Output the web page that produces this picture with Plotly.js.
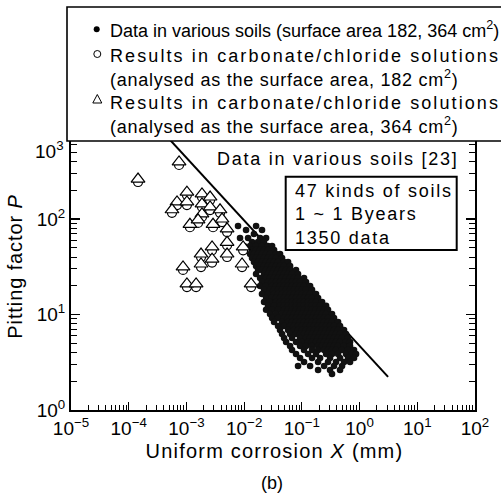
<!DOCTYPE html>
<html>
<head>
<meta charset="utf-8">
<script src="https://cdn.plot.ly/plotly-3.0.1.min.js"></script>
<style>
  html, body { margin: 0; padding: 0; background: #fff; }
  #chart { width: 501px; height: 496px; }
</style>
</head>
<body>
<div id="chart"></div>
<script>
// ---- Field data: pitting factor P against uniform corrosion X ----

// Data in various soils: one P level per row, with the X values observed at that level
const soilRowP = [84.5, 76.7, 69.7, 63.3, 57.5, 52.2, 47.4, 43.0, 39.1, 35.5, 32.2, 29.3, 26.6, 24.1,
  21.9, 19.9, 18.1, 16.4, 14.9, 13.5, 12.3, 11.2, 10.1, 9.20, 8.35, 7.58, 6.88, 6.25, 5.68, 5.15,
  4.68, 4.25, 3.86, 3.50, 3.18, 2.89, 2.62, 2.38];
const soilRowX = [
  [0.00784, 0.0161],
  [0.0108, 0.0204],
  [0.0148],
  [0.00849, 0.0117, 0.0189, 0.0240],
  [0.0137, 0.0174, 0.0221],
  [0.00995, 0.0127, 0.0161, 0.0204, 0.0259, 0.0305],
  [0.0137, 0.0161, 0.0189, 0.0221, 0.0259, 0.0330],
  [0.0127, 0.0148, 0.0174, 0.0204, 0.0240, 0.0281, 0.0357, 0.0419],
  [0.0137, 0.0161, 0.0189, 0.0221, 0.0259, 0.0305, 0.0357, 0.0454],
  [0.0148, 0.0174, 0.0204, 0.0240, 0.0281, 0.0330, 0.0387, 0.0492, 0.0577],
  [0.0161, 0.0189, 0.0221, 0.0259, 0.0305, 0.0357, 0.0419, 0.0492, 0.0625],
  [0.0174, 0.0204, 0.0240, 0.0281, 0.0330, 0.0387, 0.0454, 0.0533, 0.0625, 0.0793],
  [0.0161, 0.0221, 0.0259, 0.0305, 0.0357, 0.0419, 0.0492, 0.0577, 0.0676, 0.0859],
  [0.0189, 0.0240, 0.0281, 0.0330, 0.0387, 0.0454, 0.0533, 0.0625, 0.0733, 0.0859, 0.109],
  [0.0204, 0.0259, 0.0305, 0.0357, 0.0419, 0.0492, 0.0577, 0.0676, 0.0793, 0.0931, 0.118],
  [0.0189, 0.0240, 0.0305, 0.0357, 0.0419, 0.0492, 0.0577, 0.0676, 0.0793, 0.0931, 0.109, 0.139],
  [0.0221, 0.0281, 0.0330, 0.0387, 0.0454, 0.0533, 0.0625, 0.0733, 0.0859, 0.101, 0.118, 0.150],
  [0.0204, 0.0259, 0.0330, 0.0387, 0.0454, 0.0533, 0.0625, 0.0733, 0.0859, 0.101, 0.118, 0.139, 0.176],
  [0.0240, 0.0305, 0.0357, 0.0419, 0.0492, 0.0577, 0.0676, 0.0793, 0.0931, 0.109, 0.128, 0.150, 0.191],
  [0.0221, 0.0281, 0.0357, 0.0419, 0.0492, 0.0577, 0.0676, 0.0793, 0.0931, 0.109, 0.128, 0.150, 0.176, 0.224],
  [0.0259, 0.0330, 0.0419, 0.0492, 0.0577, 0.0676, 0.0793, 0.0931, 0.109, 0.128, 0.150, 0.176, 0.207, 0.263],
  [0.0240, 0.0305, 0.0387, 0.0492, 0.0577, 0.0676, 0.0793, 0.0931, 0.109, 0.128, 0.150, 0.176, 0.207, 0.243, 0.284],
  [0.0281, 0.0357, 0.0454, 0.0533, 0.0625, 0.0733, 0.0859, 0.101, 0.118, 0.139, 0.163, 0.191, 0.224, 0.263, 0.333],
  [0.0305, 0.0387, 0.0492, 0.0577, 0.0676, 0.0793, 0.0931, 0.109, 0.128, 0.150, 0.176, 0.207, 0.243, 0.284, 0.361],
  [0.0330, 0.0454, 0.0577, 0.0676, 0.0793, 0.0931, 0.109, 0.128, 0.150, 0.176, 0.207, 0.243, 0.284, 0.333, 0.424],
  [0.0387, 0.0492, 0.0625, 0.0733, 0.0859, 0.101, 0.118, 0.139, 0.163, 0.191, 0.224, 0.263, 0.308, 0.361, 0.459],
  [0.0419, 0.0577, 0.0733, 0.0859, 0.101, 0.118, 0.139, 0.163, 0.191, 0.224, 0.263, 0.308, 0.361, 0.424, 0.538],
  [0.0454, 0.0625, 0.0793, 0.0931, 0.109, 0.128, 0.150, 0.176, 0.207, 0.243, 0.284, 0.333, 0.391, 0.459, 0.583],
  [0.0492, 0.0676, 0.0931, 0.118, 0.139, 0.163, 0.191, 0.224, 0.263, 0.308, 0.361, 0.424, 0.497, 0.632],
  [0.0533, 0.0793, 0.101, 0.128, 0.150, 0.176, 0.207, 0.243, 0.284, 0.333, 0.391, 0.459, 0.583, 0.684],
  [0.0625, 0.0931, 0.118, 0.150, 0.191, 0.224, 0.263, 0.308, 0.361, 0.424, 0.538, 0.684],
  [0.0676, 0.109, 0.150, 0.191, 0.243, 0.284, 0.333, 0.391, 0.497, 0.632, 0.802],
  [0.0793, 0.128, 0.176, 0.263, 0.333, 0.424, 0.583, 0.741, 0.869],
  [0.0931, 0.150, 0.207, 0.308, 0.459, 0.632, 0.802],
  [0.109, 0.191, 0.284, 0.391, 0.538, 0.684],
  [0.0859, 0.139, 0.243, 0.361, 0.497],
  [0.191, 0.308, 0.459],
  [0.333]
];

// Carbonate/chloride solutions, analysed with a surface area of 182 cm2 (circles)
const circX = [1.45e-4, 7.45e-4, 6.87e-4, 5.62e-4, 1.02e-3, 1.02e-3, 1.86e-3, 1.86e-3, 1.86e-3, 2.57e-3,
  2.57e-3, 2.89e-3, 3.82e-3, 4.14e-3, 5.06e-3, 5.06e-3, 5.06e-3, 1.15e-3, 1.59e-3, 2.78e-3,
  2.78e-3, 1.79e-3, 1.79e-3, 8.73e-4, 1.02e-3, 1.47e-3, 9.2e-3, 9.6e-3, 1.32e-2];
const circP = [244, 368, 140, 116, 178, 140, 170, 134, 105, 158,
  124, 82, 116, 93, 73, 53, 40, 82, 91, 47,
  35, 40, 31.4, 29.3, 19.4, 19.4, 31.4, 47, 19.4];

// The same solutions analysed with a surface area of 364 cm2 (triangles)
const triX = [1.45e-4, 7.45e-4, 6.87e-4, 5.62e-4, 1.02e-3, 1.02e-3, 1.86e-3, 1.86e-3, 1.86e-3, 2.57e-3,
  2.57e-3, 2.89e-3, 3.82e-3, 4.14e-3, 5.06e-3, 5.06e-3, 5.06e-3, 1.15e-3, 1.59e-3, 2.78e-3,
  2.78e-3, 1.79e-3, 1.79e-3, 8.73e-4, 1.02e-3, 1.47e-3, 9.2e-3, 9.6e-3, 1.32e-2];
const triP = [262, 396, 151, 125, 191, 151, 183, 144, 113, 170,
  134, 88, 125, 100, 79, 57, 43, 88, 98, 51,
  38, 43, 33.8, 31.5, 20.9, 20.9, 33.8, 51, 20.9];

// Upper bound line of the soil data
const boundX = [4.0e-4, 3.12];
const boundP = [800, 2.22];

// Axis ticks
const xTickVals = [1e-5, 1e-4, 1e-3, 1e-2, 1e-1, 1e0, 1e1, 1e2];
const xTickText = ['10<sup>\u22125</sup>', '10<sup>\u22124</sup>', '10<sup>\u22123</sup>', '10<sup>\u22122</sup>',
  '10<sup>\u22121</sup>', '10<sup>0</sup>', '10<sup>1</sup>', '10<sup>2</sup>'];
const yTickVals = [1, 10, 100];
const yTickText = ['10<sup>0</sup>', '10<sup>1</sup>', '10<sup>2</sup>'];

// ---- Layout helpers (plot frame in pixels) ----
const FRAME = { l: 71, r: 475, t: 141, b: 410 };
const fx = px => (px - FRAME.l) / (FRAME.r - FRAME.l);
const fy = py => (FRAME.b - py) / (FRAME.b - FRAME.t);
const FONT = 'Liberation Sans, Arial, Helvetica, sans-serif';

// Flatten the soil rows into point lists
const soilX = [], soilP = [];
soilRowX.forEach((row, i) => row.forEach(x => { soilX.push(x); soilP.push(soilRowP[i]); }));

const traces = [
  { x: boundX, y: boundP, type: 'scatter', mode: 'lines',
    line: { color: '#000', width: 2 }, hoverinfo: 'skip' },
  { x: soilX, y: soilP, type: 'scatter', mode: 'markers',
    marker: { symbol: 'circle', size: 6.6, color: '#111', line: { width: 0 } } },
  { x: circX, y: circP, type: 'scatter', mode: 'markers',
    marker: { symbol: 'circle', size: 9, color: '#fff', line: { color: '#000', width: 1.2 } } },
  { x: triX, y: triP, type: 'scatter', mode: 'markers',
    marker: { symbol: 'triangle-up', size: 12, color: '#fff', line: { color: '#000', width: 1.2 } } }
];

// Text items: [text, x px, y px, xanchor, letter spacing, extra]
const notes = [
  ['Data in various soils (surface area 182, 364 cm<sup>2</sup>)', 108, 29, 'left', 0],
  ['Results in carbonate/chloride solutions', 108, 56, 'left', 2.1],
  ['(analysed as the surface area, 182 cm<sup>2</sup>)', 108, 79, 'left', 0.75],
  ['Results in carbonate/chloride solutions', 108, 103.5, 'left', 2.1],
  ['(analysed as the surface area, 364 cm<sup>2</sup>)', 108, 126, 'left', 0.75],
  ['Data in various soils [23]', 215, 158.5, 'left', 1.75],
  ['47 kinds of soils<br>1 ~ 1 Byears<br>1350 data', 293, 214, 'left', 1.75],
  ['10<sup>3</sup>', 66, 150, 'right', 0, { size: 19 }],
  ['Pitting factor <i>P</i>', 14, 266.5, 'center', 0.9, { textangle: -90, size: 20 }],
  ['Uniform corrosion <i>X</i> (mm)', 274, 451, 'center', 1.2, { size: 20 }],
  ['(b)', 272, 483, 'center', 0]
];

const annotations = notes.map(n => {
  const extra = n[5] || {};
  return {
    text: n[0], xref: 'paper', yref: 'paper', x: fx(n[1]), y: fy(n[2]),
    xanchor: n[3], yanchor: 'middle', align: n[3] === 'center' ? 'center' : n[3],
    showarrow: false, textangle: extra.textangle || 0,
    font: { family: FONT, size: extra.size || 18, color: '#000' }
  };
});

const shapes = [
  // legend frame
  { type: 'rect', xref: 'paper', yref: 'paper', x0: fx(67), x1: fx(512), y0: fy(141), y1: fy(7),
    line: { color: '#000', width: 1.6 }, fillcolor: '#fff', layer: 'above' },
  // legend keys
  { type: 'circle', xref: 'paper', yref: 'paper', x0: fx(93.7), x1: fx(99.7), y0: fy(32.3), y1: fy(26.3),
    line: { color: '#000', width: 0 }, fillcolor: '#000', layer: 'above' },
  { type: 'circle', xref: 'paper', yref: 'paper', x0: fx(93.8), x1: fx(100.8), y0: fy(57.5), y1: fy(50.5),
    line: { color: '#000', width: 1 }, fillcolor: 'rgba(0,0,0,0)', layer: 'above' },
  { type: 'path', xref: 'paper', yref: 'paper',
    path: 'M' + fx(97.3) + ',' + fy(94.5) + ' L' + fx(101.8) + ',' + fy(103) + ' L' + fx(92.8) + ',' + fy(103) + ' Z',
    line: { color: '#000', width: 1 }, fillcolor: 'rgba(0,0,0,0)', layer: 'above' },
  // info box
  { type: 'rect', xref: 'paper', yref: 'paper', x0: fx(285.7), x1: fx(456.7), y0: fy(250), y1: fy(176.7),
    line: { color: '#000', width: 2 }, fillcolor: '#fff', layer: 'above' }
];

const axisCommon = {
  type: 'log', showgrid: false, zeroline: false, showline: true,
  linecolor: '#000', linewidth: 2, ticks: 'inside', tickcolor: '#000', tickwidth: 1.2,
  tickmode: 'array', tickfont: { family: FONT, size: 19, color: '#000' }
};

const layout = {
  width: 501, height: 496,
  margin: { l: FRAME.l, r: 501 - FRAME.r, t: FRAME.t, b: 496 - FRAME.b, pad: 0 },
  paper_bgcolor: '#fff', plot_bgcolor: '#fff',
  showlegend: false,
  font: { family: FONT, color: '#000' },
  xaxis: Object.assign({}, axisCommon, {
    range: [-5, 2], tickvals: xTickVals, ticktext: xTickText, ticklen: 8, mirror: false,
    minor: { ticks: 'inside', ticklen: 5, tickwidth: 1, tickcolor: '#000', dtick: 'D1', showgrid: false }
  }),
  yaxis: Object.assign({}, axisCommon, {
    range: [0, 2.817], tickvals: yTickVals, ticktext: yTickText, ticklen: 9, mirror: 'allticks',
    minor: { ticks: 'inside', ticklen: 6, tickwidth: 1, tickcolor: '#000', dtick: 'D1', showgrid: false }
  }),
  annotations: annotations,
  shapes: shapes
};

const gd = document.getElementById('chart');
Plotly.newPlot(gd, traces, layout, { staticPlot: true, displayModeBar: false }).then(() => {
  // apply the letter spacing of each text item
  gd.querySelectorAll('g.annotation').forEach(g => {
    const i = +g.getAttribute('data-index');
    const t = g.querySelector('text.annotation-text');
    if (t && notes[i] && notes[i][4]) t.style.letterSpacing = notes[i][4] + 'px';
  });
});
</script>
</body>
</html>
